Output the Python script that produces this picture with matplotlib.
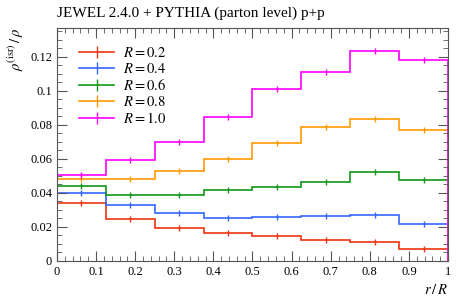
import numpy as np
import matplotlib
matplotlib.use("Agg")
import matplotlib.pyplot as plt
from matplotlib.ticker import MultipleLocator

plt.rcParams['font.family'] = ['Liberation Serif', 'DejaVu Serif']
plt.rcParams['mathtext.fontset'] = 'stix'

# bin edges in r/R
edges = np.linspace(0, 1, 9)

# rho^(isr)/rho per radius
r02 = [0.0339, 0.0247, 0.0196, 0.0163, 0.0147, 0.0125, 0.0113, 0.0069]
r04 = [0.0401, 0.0327, 0.0282, 0.0253, 0.0259, 0.0264, 0.0272, 0.0217]
r06 = [0.0439, 0.0388, 0.0386, 0.0417, 0.0435, 0.0462, 0.0521, 0.0474]
r08 = [0.0480, 0.0484, 0.0531, 0.0598, 0.0691, 0.0789, 0.0836, 0.0770]
r10 = [0.0505, 0.0592, 0.0701, 0.0844, 0.1011, 0.1112, 0.1234, 0.1183]

labels = ['$R = 0.2$', '$R = 0.4$', '$R = 0.6$', '$R = 0.8$', '$R = 1.0$']
colors = ['#EE3311', '#3366FF', '#109618', '#FF9900', '#FF00FF']
series = [r02, r04, r06, r08, r10]

fig = plt.figure(figsize=(4.63, 3.01), dpi=100)
ax = fig.add_axes([0.1231, 0.1329, 0.8445, 0.7741])

centers = 0.5 * (edges[:-1] + edges[1:])
for vals, lab, col in zip(series, labels, colors):
    v = np.array(vals)
    ax.stairs(v, edges, color=col, lw=1.2)
    ax.plot(centers, v, ls='none', marker='|', ms=4, mew=1.0, color=col)
    # legend proxy
    ax.plot([], [], color=col, lw=1.2, marker='|', ms=9, mew=1.0, label=lab)

ax.set_xlim(0, 1)
ax.set_ylim(0, 0.137)
ax.xaxis.set_minor_locator(MultipleLocator(0.02))
ax.yaxis.set_minor_locator(MultipleLocator(0.005))
ax.set_xticks(np.arange(0, 1.01, 0.1))
ax.set_xticklabels(['0', '0.1', '0.2', '0.3', '0.4', '0.5', '0.6', '0.7', '0.8', '0.9', '1'])
ax.set_yticks(np.arange(0, 0.121, 0.02))
ax.set_yticklabels(['0', '0.02', '0.04', '0.06', '0.08', '0.1', '0.12'])
ax.tick_params(which='both', direction='in', top=True, right=True, labelsize=9, color='#555555')
ax.tick_params(which='major', length=7, width=0.8)
ax.tick_params(which='minor', length=3.5, width=0.6)
for s in ax.spines.values():
    s.set_color('#555555')
    s.set_linewidth(0.8)

ax.legend(loc='upper left', bbox_to_anchor=(0.02, 0.985), frameon=False, fontsize=10.5,
          handlelength=2.4, handletextpad=0.6, labelspacing=0.14, borderaxespad=0.6)

fig.text(0.1231, 0.955, 'JEWEL 2.4.0 + PYTHIA (parton level) p+p', fontsize=11,
         ha='left', va='center')
ax.text(-0.105, 1.0, r'$\rho^{(\mathrm{isr})}\,/\,\rho$', transform=ax.transAxes,
        rotation=90, ha='center', va='top', fontsize=10.5)
ax.text(1.0, -0.095, r'$r\,/\,R$', transform=ax.transAxes, ha='right', va='top', fontsize=10.5)

fig.savefig('out.png', dpi=100)
